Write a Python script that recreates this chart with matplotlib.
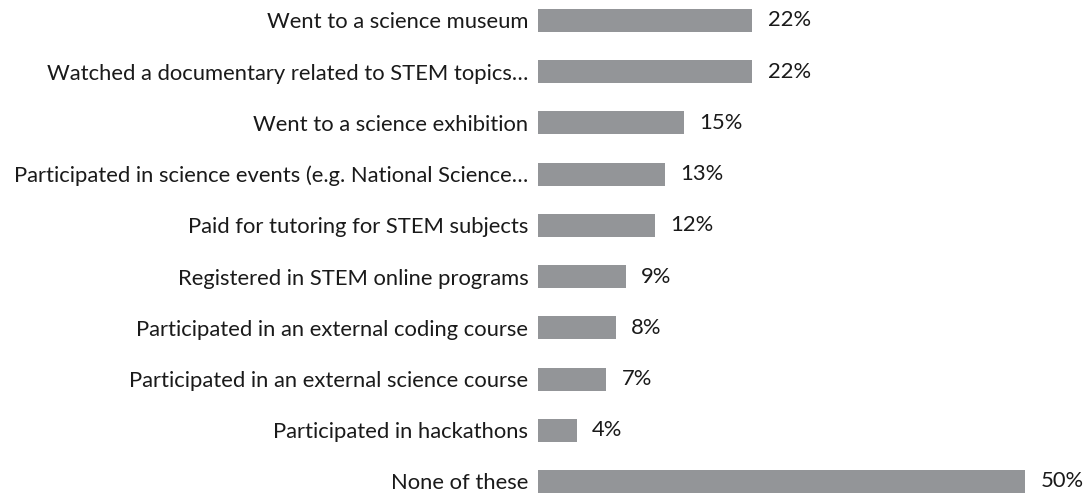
import matplotlib
matplotlib.use("Agg")
import matplotlib.pyplot as plt

categories = [
    "Went to a science museum",
    "Watched a documentary related to STEM topics…",
    "Went to a science exhibition",
    "Participated in science events (e.g. National Science…",
    "Paid for tutoring for STEM subjects",
    "Registered in STEM online programs",
    "Participated in an external coding course",
    "Participated in an external science course",
    "Participated in hackathons",
    "None of these",
]
values = [22, 22, 15, 13, 12, 9, 8, 7, 4, 50]
value_labels = ["22%", "22%", "15%", "13%", "12%", "9%", "8%", "7%", "4%", "50%"]

W, H = 1085, 493
fig = plt.figure(figsize=(W / 100, H / 100), dpi=100)
left_px, right_px = 538, 1025
ax = fig.add_axes([left_px / W, 0, (right_px - left_px) / W, 1])

FONT = ["Lato", "DejaVu Sans"]
FS = 15.8
n = len(categories)
ys = list(range(n))
ax.barh(ys, values, height=0.45, color="#939598")
ax.set_xlim(0, 50)
ax.set_ylim(9.225, -0.40)
ax.set_yticks(ys)
ax.set_yticklabels(categories, fontsize=FS, color="#1a1a1a", family=FONT)
ax.tick_params(axis="y", length=0, pad=7)
ax.set_xticks([])
for s in ax.spines.values():
    s.set_visible(False)

for y, v, lab in zip(ys, values, value_labels):
    ax.annotate(lab, (v, y), xytext=(11, 0), textcoords="offset points",
                va="center", ha="left", fontsize=FS, color="#1a1a1a",
                family=FONT, annotation_clip=False)

fig.savefig("out.png", dpi=100)
